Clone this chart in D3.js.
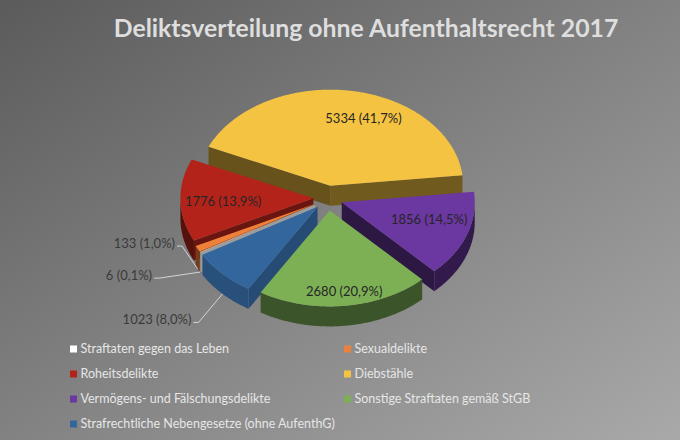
<!DOCTYPE html>
<html><head><meta charset="utf-8">
<script src="https://cdn.jsdelivr.net/npm/d3@7"></script>
<style>html,body{margin:0;padding:0;background:#888;}svg{display:block;}</style>
</head><body>
<svg id="chart" width="680" height="440"></svg>
<script>
// ---- data ----
const titleText = "Deliktsverteilung ohne Aufenthaltsrecht 2017";
const categories = ["Straftaten gegen das Leben","Sexualdelikte","Roheitsdelikte","Diebstähle","Vermögens- und Fälschungsdelikte","Sonstige Straftaten gemäß StGB","Strafrechtliche Nebengesetze (ohne AufenthG)"];
const values = [6,133,1776,5334,1856,2680,1023];
const percentLabels = ["0,1%","1,0%","13,9%","41,7%","14,5%","20,9%","8,0%"];
const colors = ["#ffffff","#ef8039","#b4231a","#f5c342","#6b37a0","#7db055","#33669d"];

// ---- layout ----
const W = 680, H = 440;
const cx = 328, cy = 198, rx = 133, ry = 96, depth = 20;
const explodeX = 14.6, explodeY = 12.5;
const startDeg = 240;
const insideLabel = {2:{da:-2,r:0.68},3:{da:11,r:0.74},4:{da:-5,r:0.68},5:{da:-1,r:0.85}};
const outsideLabel = {0:{dx:-48,dy:3},1:{dx:-22.6,dy:-25.8},6:{dx:-31,dy:25.6}};

const svg = d3.select("#chart");
const defs = svg.append("defs");
const bg = defs.append("linearGradient").attr("id","bg").attr("x1",0).attr("y1",0).attr("x2",1).attr("y2",1);
bg.append("stop").attr("offset","0%").attr("stop-color","#5b5b5b");
bg.append("stop").attr("offset","100%").attr("stop-color","#a9a9a9");
svg.append("rect").attr("width",W).attr("height",H).attr("fill","url(#bg)");

const font = "Lato, 'Open Sans', sans-serif";

// title
const title = svg.append("text").attr("x",366).attr("y",37).attr("text-anchor","middle")
  .attr("font-family",font).attr("font-weight","bold").attr("font-size",24)
  .attr("fill","#dedede").text(titleText);
const tl = title.node().getComputedTextLength();
title.attr("font-size", 24*505/tl);

// pie
const rad = Math.PI/180;
const pie = d3.pie().sort(null).value(d=>d).startAngle(startDeg*rad).endAngle(startDeg*rad+2*Math.PI);
const arcs = pie(values).map((a,i)=>{
  const mid = (a.startAngle+a.endAngle)/2;
  return {...a, i, mid, ox: cx + explodeX*Math.sin(mid), oy: cy - explodeY*Math.cos(mid)};
});
function P(s, phi, r, z){ return [s.ox + rx*r*Math.sin(phi), s.oy - ry*r*Math.cos(phi) + (z||0)]; }
function arcPts(s, a0, a1, z){
  const n = Math.max(2, Math.ceil(Math.abs(a1-a0)/(0.5*rad)));
  return d3.range(n+1).map(k=>P(s, a0+(a1-a0)*k/n, 1, z));
}
const line = d3.line();
function shade(c, f){ const col=d3.color(c); return d3.rgb(col.r*f,col.g*f,col.b*f).formatHex(); }

const g = svg.append("g");
const order = arcs.slice().sort((a,b)=>(-Math.cos(a.mid))-(-Math.cos(b.mid)));
order.forEach(s=>{
  const c = colors[s.i];
  const a0 = s.startAngle, a1 = s.endAngle;
  const sg = g.append("g");
  if (Math.sin(a0) < 0){
    const nx = -Math.cos(a0);
    const pts = [P(s,a0,0,0),P(s,a0,1,0),P(s,a0,1,depth),P(s,a0,0,depth)];
    sg.append("path").attr("d",line(pts)+"Z").attr("fill",shade(c,0.42+0.38*Math.max(0,nx)));
  }
  if (Math.sin(a1) > 0){
    const nx = Math.cos(a1);
    const pts = [P(s,a1,0,0),P(s,a1,1,0),P(s,a1,1,depth),P(s,a1,0,depth)];
    sg.append("path").attr("d",line(pts)+"Z").attr("fill",shade(c,0.42+0.38*Math.max(0,nx)));
  }
  for (let k=-1;k<=2;k++){
    const lo = Math.max(a0, Math.PI/2 + k*2*Math.PI), hi = Math.min(a1, 3*Math.PI/2 + k*2*Math.PI);
    if (hi > lo){
      const top = arcPts(s, lo, hi, 0), bot = arcPts(s, hi, lo, depth);
      sg.append("path").attr("d",line(top.concat(bot))+"Z").attr("fill",shade(c,s.i===6?0.78:0.48));
    }
  }
  const topPts = [P(s,0,0,0)].concat(arcPts(s,a0,a1,0));
  sg.append("path").attr("d",line(topPts)+"Z").attr("fill",c);
});

// labels
const lg = svg.append("g").attr("font-family",font).attr("font-size",13);
arcs.forEach(s=>{
  const txt = values[s.i] + " (" + percentLabels[s.i] + ")";
  if (insideLabel[s.i]){
    const L = insideLabel[s.i];
    const p = P(s, s.mid + L.da*rad, L.r, 0);
    lg.append("text").attr("x",p[0]).attr("y",p[1]).attr("dy","0.35em").attr("text-anchor","middle")
      .attr("fill","#262626").text(txt);
  } else if (outsideLabel[s.i]){
    const L = outsideLabel[s.i];
    const e = P(s, s.mid, 1, depth);
    const tx = e[0]+L.dx, ty = e[1]+L.dy;
    lg.append("path").attr("d", line([[tx+2,ty+3],[tx+7,ty+3],e])).attr("fill","none")
      .attr("stroke","#d4d4d4").attr("stroke-width",1);
    lg.append("text").attr("x",tx).attr("y",ty).attr("dy","0.35em").attr("text-anchor","end")
      .attr("fill","#3a3a3a").text(txt);
  }
});

// legend
const leg = svg.append("g").attr("font-family",font).attr("font-size",12.5);
categories.forEach((name,i)=>{
  const col = i%2, row = Math.floor(i/2);
  const x = col===0 ? 70 : 344, y = 349 + row*25;
  leg.append("rect").attr("x",x).attr("y",y-3.5).attr("width",7).attr("height",7).attr("fill",colors[i]);
  leg.append("text").attr("x",x+10.5).attr("y",y).attr("dy","0.35em").attr("fill","#e6e6e6").text(name);
});
</script>
</body></html>
